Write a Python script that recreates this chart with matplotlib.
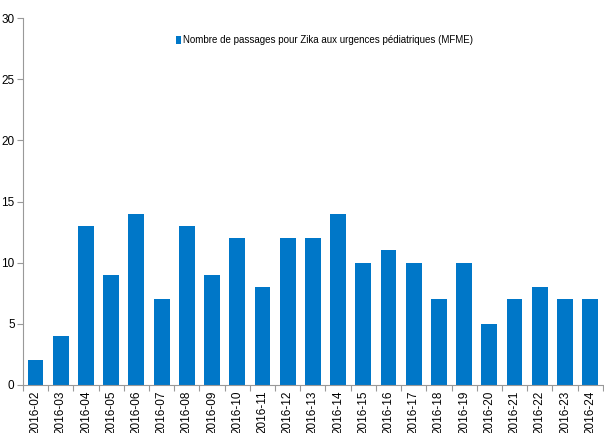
import matplotlib
matplotlib.use("Agg")
import matplotlib.pyplot as plt
import numpy as np

# Donnees
semaines = ["2016-02", "2016-03", "2016-04", "2016-05", "2016-06", "2016-07",
            "2016-08", "2016-09", "2016-10", "2016-11", "2016-12", "2016-13",
            "2016-14", "2016-15", "2016-16", "2016-17", "2016-18", "2016-19",
            "2016-20", "2016-21", "2016-22", "2016-23", "2016-24"]
passages = [2, 4, 13, 9, 14, 7, 13, 9, 12, 8, 12, 12, 14, 10, 11, 10, 7, 10,
            5, 7, 8, 7, 7]
y_ticks = [0, 5, 10, 15, 20, 25, 30]

plt.rcParams["font.family"] = ["Liberation Sans", "DejaVu Sans"]

fig = plt.figure(figsize=(6.04, 4.33), dpi=100)
ax = fig.add_axes([0.038, 0.111, 0.96, 0.847])

x = np.arange(len(semaines))
ax.bar(x, passages, width=0.63, color="#0077C8",
       label="Nombre de passages pour Zika aux urgences pédiatriques (MFME)")

ax.set_xlim(-0.5, len(semaines) - 0.5)
ax.set_ylim(0, 30)
ax.set_yticks(y_ticks)
ax.tick_params(axis="y", labelsize=8.5, length=4, color="#999999", pad=2)

# ticks majeurs entre les categories, etiquettes au centre
ax.set_xticks(np.arange(len(semaines) + 1) - 0.5)
ax.set_xticklabels([])
ax.set_xticks(x, minor=True)
ax.set_xticklabels(semaines, minor=True, rotation=90, fontsize=8.5)
ax.tick_params(axis="x", which="major", length=4, color="#999999")
ax.tick_params(axis="x", which="minor", length=0, pad=4)

for side in ["top", "right"]:
    ax.spines[side].set_visible(False)
ax.spines["left"].set_color("#999999")
ax.spines["bottom"].set_color("#999999")

ax.legend(loc="center", bbox_to_anchor=(0.52, 0.94), frameon=False,
          fontsize=7, handlelength=0.6, handleheight=0.8, handletextpad=0.2)

fig.savefig("out.png", dpi=100)
